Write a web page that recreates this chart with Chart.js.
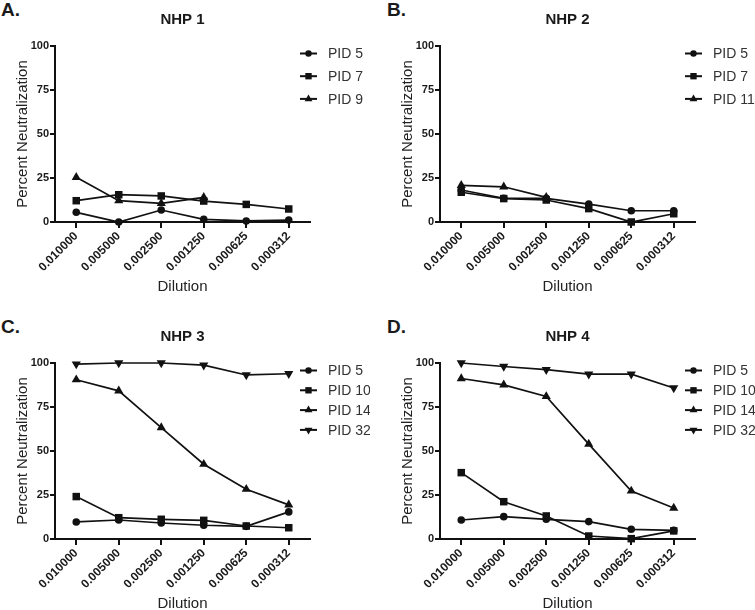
<!DOCTYPE html>
<html lang="en">
<head>
  <meta charset="UTF-8">
  <title>Percent Neutralization by Dilution</title>
  <script src="https://cdn.jsdelivr.net/npm/chart.js"></script>
  <style>
    html, body { margin: 0; padding: 0; width: 755px; height: 610px; overflow: hidden; background: #fff; }
    canvas { position: absolute; }
    .tag { position: absolute; font: bold 19px "Liberation Sans", Arial, sans-serif; line-height: 19px; color: #1a1a1a; }
  </style>
</head>
<body>
  <div class="tag" style="left:1px; top:0px">A.</div>
  <div class="tag" style="left:387px; top:0px">B.</div>
  <div class="tag" style="left:1px; top:317px">C.</div>
  <div class="tag" style="left:387px; top:317px">D.</div>

  <canvas id="nhp1" width="370" height="296" style="left:0px; top:0px"></canvas>
  <canvas id="nhp2" width="370" height="296" style="left:385px; top:0px"></canvas>
  <canvas id="nhp3" width="370" height="296" style="left:0px; top:317px"></canvas>
  <canvas id="nhp4" width="370" height="296" style="left:385px; top:317px"></canvas>

  <script>
    // x categories (serum dilution) and y ticks
    const dilutions = ['0.010000', '0.005000', '0.002500', '0.001250', '0.000625', '0.000312'];
    const yTicks = [0, 25, 50, 75, 100];

    // NHP 1
    const nhp1Pid5 = [5.5, 0, 6.8, 1.5, 0.6, 1.1];
    const nhp1Pid7 = [12.1, 15.5, 14.8, 11.9, 10, 7.4];
    const nhp1Pid9 = [25.4, 12.1, 10.6, 14, null, null];

    // NHP 2
    const nhp2Pid5 = [18.2, 13.5, 13.4, 10.2, 6.4, 6.4];
    const nhp2Pid7 = [16.9, 13.3, 12.5, 7.6, 0, 4.7];
    const nhp2Pid11 = [20.8, 20, 14, null, null, null];

    // NHP 3
    const nhp3Pid5 = [9.7, 10.8, 9.1, 7.8, 7.2, 15.4];
    const nhp3Pid10 = [24.1, 12.1, 11.2, 10.6, 7.4, 6.4];
    const nhp3Pid14 = [90.5, 84.2, 63.3, 42.5, 28.3, 19.4];
    const nhp3Pid32 = [99.4, 100, 100, 98.8, 93.2, 93.9];

    // NHP 4
    const nhp4Pid5 = [10.8, 12.7, 11.2, 9.9, 5.5, 4.9];
    const nhp4Pid10 = [37.7, 21.2, 13.1, 1.7, 0.2, 4.6];
    const nhp4Pid14 = [91.2, 87.6, 81, 53.9, 27.3, 17.6];
    const nhp4Pid32 = [100, 98, 96.2, 93.7, 93.7, 85.8];

    const ink = '#111';
    Chart.defaults.font.family = '"Liberation Sans", Arial, sans-serif';
    Chart.defaults.color = '#222';

    // marker look per PID style
    const markers = {
      circle: { pointStyle: 'circle', pointRadius: 3.8, pointRotation: 0 },
      square: { pointStyle: 'rect', pointRadius: 5.3, pointRotation: 0 },
      up: { pointStyle: 'triangle', pointRadius: 5.3, pointRotation: 0 },
      down: { pointStyle: 'triangle', pointRadius: 5.3, pointRotation: 180 }
    };

    // legend with a short line through each marker, like the prism style
    const lineLegend = {
      id: 'lineLegend',
      afterDraw(chart, args, opts) {
        const ctx = chart.ctx;
        ctx.save();
        ctx.font = '14px "Liberation Sans", Arial, sans-serif';
        ctx.textBaseline = 'middle';
        chart.data.datasets.forEach((ds, i) => {
          const x = opts.left;
          const y = opts.top + i * opts.gap;
          ctx.strokeStyle = ink;
          ctx.fillStyle = ink;
          ctx.lineWidth = 2;
          ctx.beginPath();
          ctx.moveTo(x, y);
          ctx.lineTo(x + 17, y);
          ctx.stroke();
          Chart.helpers.drawPoint(ctx, {
            pointStyle: ds.pointStyle,
            radius: ds.pointRadius * 0.85,
            rotation: ds.pointRotation,
            borderWidth: 0
          }, x + 8.5, y);
          ctx.fillStyle = '#333';
          ctx.fillText(ds.label, x + 28, y + 1);
        });
        ctx.restore();
      }
    };

    function series(label, values, kind, n, i) {
      return Object.assign({
        label: label,
        data: values,
        borderColor: ink,
        backgroundColor: ink,
        pointBackgroundColor: ink,
        pointBorderWidth: 0,
        borderWidth: 1.7,
        tension: 0,
        clip: false,
        spanGaps: false,
        order: n - i
      }, markers[kind]);
    }

    function panel(id, title, sets, gap) {
      const datasets = sets.map((s, i) => series(s[0], s[1], s[2], sets.length, i));
      new Chart(document.getElementById(id), {
        type: 'line',
        data: { labels: dilutions, datasets: datasets },
        plugins: [lineLegend],
        options: {
          responsive: false,
          animation: false,
          layout: { padding: { left: 0, right: 60, top: 0, bottom: 0 } },
          plugins: {
            legend: { display: false },
            tooltip: { enabled: false },
            title: {
              display: true,
              text: title,
              fullSize: false,
              color: '#1a1a1a',
              font: { size: 15, weight: 'bold' },
              padding: { top: 11, bottom: 17 }
            },
            lineLegend: { left: 300, top: 53.5, gap: gap }
          },
          scales: {
            x: {
              type: 'category',
              offset: true,
              border: { display: true, color: ink, width: 2 },
              grid: { drawOnChartArea: false, drawTicks: true, tickLength: 6, color: ink, lineWidth: 2 },
              ticks: {
                autoSkip: false,
                minRotation: 45,
                maxRotation: 45,
                padding: 1,
                color: '#1a1a1a',
                font: { size: 12, weight: 'bold' }
              },
              title: {
                display: true,
                text: 'Dilution',
                color: '#222',
                font: { size: 15 },
                padding: { top: 0, bottom: 0 }
              },
              afterFit(scale) { scale.height = 74; }
            },
            y: {
              min: 0,
              max: 100,
              afterBuildTicks(scale) { scale.ticks = yTicks.map(v => ({ value: v })); },
              border: { display: true, color: ink, width: 2 },
              grid: { drawOnChartArea: false, drawTicks: true, tickLength: 5, color: ink, lineWidth: 2 },
              ticks: {
                padding: 1,
                color: '#1a1a1a',
                font: { size: 11, weight: 'bold' }
              },
              title: {
                display: true,
                text: 'Percent Neutralization',
                color: '#222',
                font: { size: 15 },
                padding: { top: 14, bottom: 0 }
              },
              afterFit(scale) { scale.width = 55; }
            }
          }
        }
      });
    }

    panel('nhp1', 'NHP 1', [
      ['PID 5', nhp1Pid5, 'circle'],
      ['PID 7', nhp1Pid7, 'square'],
      ['PID 9', nhp1Pid9, 'up']
    ], 22.7);

    panel('nhp2', 'NHP 2', [
      ['PID 5', nhp2Pid5, 'circle'],
      ['PID 7', nhp2Pid7, 'square'],
      ['PID 11', nhp2Pid11, 'up']
    ], 22.7);

    panel('nhp3', 'NHP 3', [
      ['PID 5', nhp3Pid5, 'circle'],
      ['PID 10', nhp3Pid10, 'square'],
      ['PID 14', nhp3Pid14, 'up'],
      ['PID 32', nhp3Pid32, 'down']
    ], 19.8);

    panel('nhp4', 'NHP 4', [
      ['PID 5', nhp4Pid5, 'circle'],
      ['PID 10', nhp4Pid10, 'square'],
      ['PID 14', nhp4Pid14, 'up'],
      ['PID 32', nhp4Pid32, 'down']
    ], 19.8);
  </script>
</body>
</html>
